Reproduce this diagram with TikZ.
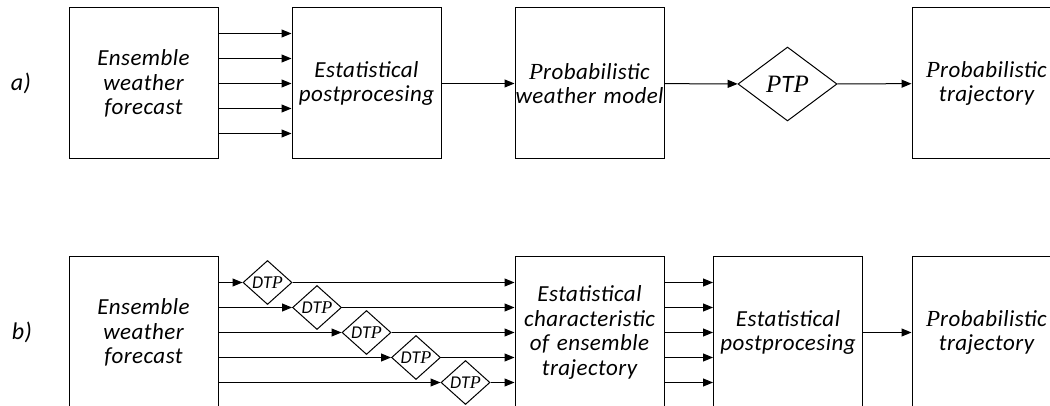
\documentclass[tikz,border=0pt]{standalone}
\usepackage{fontspec}
\setmainfont{Carlito}[LetterSpace=2]
\newfontfamily\tnr{Liberation Serif}
\usetikzlibrary{shapes.geometric,arrows.meta,calc}

\begin{document}
\begin{tikzpicture}[x=1pt,y=-1pt,
  blk/.style={draw, line width=1pt, minimum width=149pt, minimum height=151pt,
    text width=149pt, inner sep=0pt, align=center,
    font=\fontsize{23}{24.5}\selectfont\itshape},
  arr/.style={line width=1pt, -{Triangle[length=10pt,width=8pt]}},
  dtp/.style={draw, diamond, line width=1pt, minimum width=49pt, minimum height=44pt,
    inner sep=0pt, label={[font=\fontsize{18}{18}\selectfont\itshape]center:DT{\tnr P}}},
  ptp/.style={draw, diamond, line width=1pt, minimum width=99pt, minimum height=74pt,
    inner sep=0pt, label={[font=\fontsize{25}{25}\selectfont\itshape]center:{\tnr P}T{\tnr P}}},
  tag/.style={font=\fontsize{24}{24}\selectfont\itshape}
]
\path[use as bounding box, fill=white] (0,0) rectangle (1050,406);
\clip (0,0) rectangle (1050,406);

% ---- row a ----
\node[tag] (la) at (21,83.5) {a)};
\node[blk] (ea) at (143.5,83.5) {Ensemble\\weather\\forecast};
\node[blk] (sa) at (366.5,83.5) {Estatistical\\postprocesing};
\node[blk] (pa) at (589.5,83.5) {{\tnr P}robabilistic\\weather model};
\node[ptp] (ptp) at (787.5,84) {};
\node[blk] (ta) at (986.5,83.5) {{\tnr P}robabilistic\\trajectory};

\foreach \d in {-50,-25,0,25,50}
  \draw[arr] ([yshift=\d pt]ea.east) -- ([yshift=\d pt]sa.west);
\draw[arr] (sa) -- (pa);
\draw[arr] (pa) -- (ptp);
\draw[arr] (ptp) -- (ta);

% ---- row b ----
\node[tag] (lb) at (22,332.5) {b)};
\node[blk] (eb) at (143.5,332.5) {Ensemble\\weather\\forecast};
\node[blk] (cb) at (589.5,332.5) {Estatistical\\characteristic\\of ensemble\\trajectory};
\node[blk] (sb) at (788,332.5) {Estatistical\\postprocesing};
\node[blk] (tb) at (986.5,332.5) {{\tnr P}robabilistic\\trajectory};

% five members, each through its own transformation diamond
\foreach \i/\d in {1/50,2/25,3/0,4/-25,5/-50} {
  \node[dtp] (d\i) at ($(218+49.5*\i,332.5-\d)$) {};
  \draw[arr] ([yshift=\d pt]eb.east) -- (d\i.west);
  \draw[arr] (d\i.east) -- ([yshift=\d pt]cb.west);
  \draw[arr] ([yshift=\d pt]cb.east) -- ([yshift=\d pt]sb.west);
}
\draw[arr] (sb) -- (tb);
\end{tikzpicture}
\end{document}
